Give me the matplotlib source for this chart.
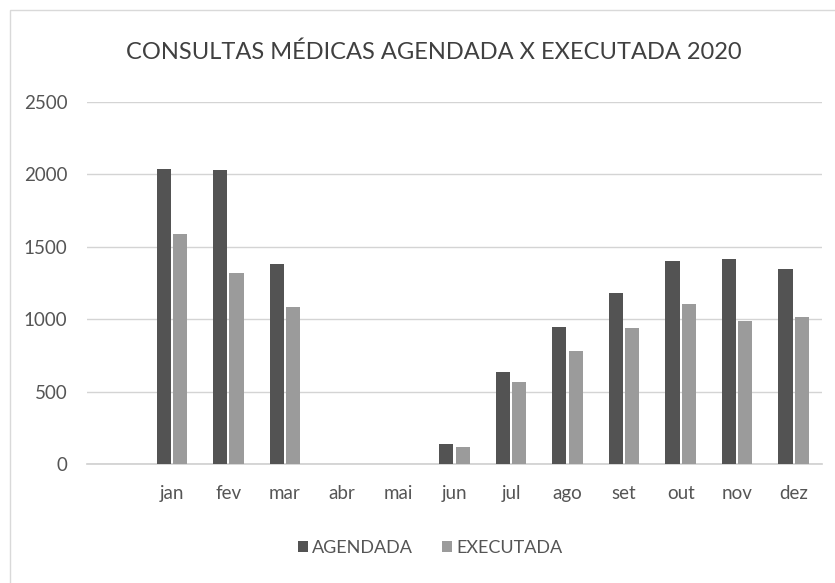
import matplotlib
matplotlib.use('Agg')

import matplotlib.pyplot as plt
import numpy as np

# data
meses = ["jan", "fev", "mar", "abr", "mai", "jun", "jul", "ago", "set", "out", "nov", "dez"]
agendada = [2035, 2028, 1378, 0, 0, 135, 638, 948, 1180, 1400, 1415, 1345]
executada = [1585, 1320, 1085, 0, 0, 115, 565, 778, 937, 1108, 990, 1015]

plt.rcParams['font.family'] = ['Lato', 'DejaVu Sans']

txt_color = "#555555"
dark = "#535353"
light = "#9b9b9b"

fig = plt.figure(figsize=(8.35, 5.83), dpi=100)
ax = fig.add_axes([87 / 835, 1 - 464 / 583, (822 - 87) / 835, (464 - 102) / 583])

x = np.arange(len(meses))
w = 0.25
ax.bar(x - 0.145, agendada, w, color=dark, label="AGENDADA", zorder=3)
ax.bar(x + 0.145, executada, w, color=light, label="EXECUTADA", zorder=3)

ax.set_xlim(-1.5, 11.5)
ax.set_ylim(0, 2500)
ax.set_yticks([0, 500, 1000, 1500, 2000, 2500])
ax.set_xticks(x)
ax.set_xticklabels(meses)

ax.grid(True, axis='y', color="#d4d4d4", linewidth=1.0, zorder=0)
for s in ["top", "right", "left"]:
    ax.spines[s].set_visible(False)
ax.spines["bottom"].set_color("#cfcfcf")
ax.spines["bottom"].set_linewidth(1.2)

ax.tick_params(axis='both', length=0, labelsize=13.5, colors=txt_color)
ax.tick_params(axis='x', pad=15)
ax.tick_params(axis='y', pad=14)

fig.text(0.519, 0.91, "CONSULTAS MÉDICAS AGENDADA X EXECUTADA 2020",
         ha='center', va='center', fontsize=17, color="#404040")

leg = fig.legend(loc='center', bbox_to_anchor=(0.515, 0.06), ncol=2, frameon=False,
                 fontsize=13, handlelength=0.55, handleheight=0.55, handletextpad=0.25,
                 columnspacing=1.6)
for t in leg.get_texts():
    t.set_color(txt_color)

# faint chart border (left and top edges visible in scan)
fig.patches.append(plt.Rectangle((10 / 835, -0.1), 1.2, 1 - 10 / 583 + 0.1,
                                 transform=fig.transFigure, fill=False,
                                 edgecolor="#d9d9d9", linewidth=1.0))

plt.savefig("out.png", dpi=100)
